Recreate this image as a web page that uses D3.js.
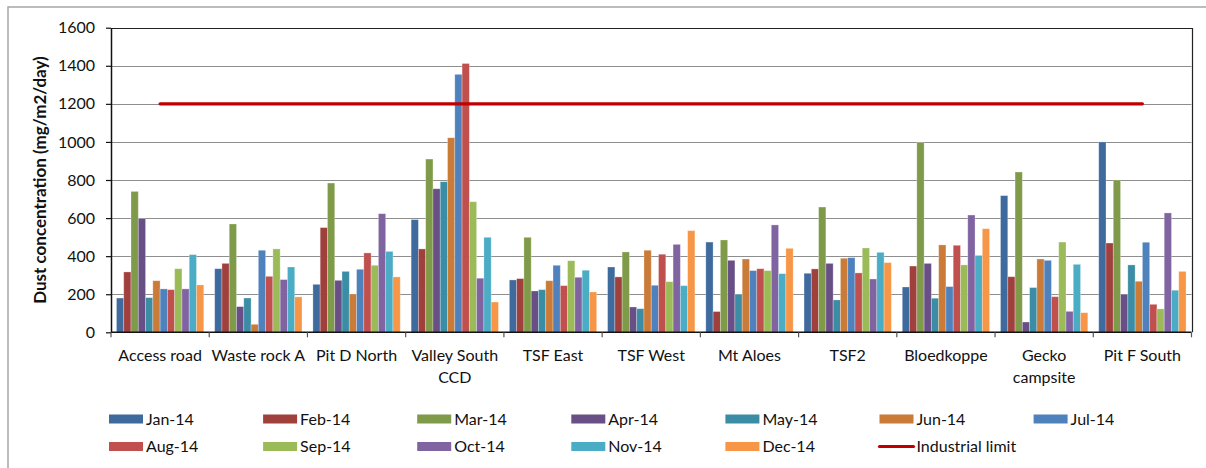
<!DOCTYPE html>
<html>
<head>
<meta charset="utf-8">
<script src="https://cdn.jsdelivr.net/npm/d3@7/dist/d3.min.js"></script>
<style>
  html, body { margin: 0; padding: 0; background: #fff; }
  svg { display: block; font-family: Lato, "Open Sans", sans-serif; }
</style>
</head>
<body>
<svg id="chart" width="1206" height="468"></svg>
<script>
// Monitoring sites along the x axis
const sites = ["Access road", "Waste rock A", "Pit D North", "Valley South CCD", "TSF East",
  "TSF West", "Mt Aloes", "TSF2", "Bloedkoppe", "Gecko campsite", "Pit F South"];

// Sampling months (one bar per month within each site)
const months = ["Jan-14", "Feb-14", "Mar-14", "Apr-14", "May-14", "Jun-14",
  "Jul-14", "Aug-14", "Sep-14", "Oct-14", "Nov-14", "Dec-14"];

// Dust fallout (mg/m2/day) per month, listed in site order
const jan14 = [180, 334, 252, 592, 275, 343, 474, 310, 238, 718, 1000];
const feb14 = [317, 362, 550, 438, 282, 291, 109, 333, 348, 292, 469];
const mar14 = [740, 569, 784, 910, 499, 422, 485, 658, 998, 842, 800];
const apr14 = [597, 135, 273, 754, 217, 133, 378, 362, 362, 54, 200];
const may14 = [182, 180, 320, 791, 224, 124, 200, 170, 179, 235, 354];
const jun14 = [271, 42, 201, 1022, 271, 431, 385, 389, 459, 385, 268];
const jul14 = [228, 431, 331, 1355, 352, 247, 324, 392, 240, 378, 473];
const aug14 = [224, 294, 417, 1412, 245, 410, 334, 312, 457, 187, 147];
const sep14 = [334, 438, 352, 686, 376, 266, 324, 443, 354, 474, 123];
const oct14 = [228, 277, 623, 284, 289, 462, 564, 280, 616, 110, 627];
const nov14 = [408, 343, 425, 499, 326, 245, 308, 420, 404, 357, 221];
const dec14 = [249, 186, 291, 159, 212, 534, 441, 366, 544, 103, 320];

// Regulatory threshold drawn as a line across the sites
const industrialLimit = 1200;
const limitLabel = "Industrial limit";

const yTicks = [0, 200, 400, 600, 800, 1000, 1200, 1400, 1600];
const yTitle = "Dust concentration (mg/m2/day)";

const series = [jan14, feb14, mar14, apr14, may14, jun14, jul14, aug14, sep14, oct14, nov14, dec14];
const colors = ["#3E6A9E", "#A0403D", "#7F9A48", "#684F86", "#3A8DA4", "#CB7B38",
  "#4F81BD", "#C0504D", "#9BBB59", "#8064A2", "#4BACC6", "#F79646"];

const svg = d3.select("#chart");

// Outer chart frame
svg.append("rect")
  .attr("x", 8).attr("y", 7).attr("width", 1230).attr("height", 500)
  .attr("fill", "#fff").attr("stroke", "#a6a6a6").attr("stroke-width", 1.5);

const plot = { left: 111, right: 1191.5, top: 27.7, bottom: 332.3 };

const x = d3.scaleBand().domain(sites).range([plot.left, plot.right]).paddingInner(0).paddingOuter(0);
const xm = d3.scaleBand().domain(months).range([0, x.bandwidth()]).paddingInner(0).paddingOuter(0.75);
const y = d3.scaleLinear().domain([0, 1600]).range([plot.bottom, plot.top]);

// Horizontal gridlines
svg.append("g")
  .selectAll("line")
  .data(yTicks.slice(1, -1))
  .join("line")
  .attr("x1", plot.left).attr("x2", plot.right)
  .attr("y1", d => Math.round(y(d)) + 0.5).attr("y2", d => Math.round(y(d)) + 0.5)
  .attr("stroke", "#8e8e8e").attr("stroke-width", 1);

// Bars
const bars = svg.append("g");
sites.forEach((site, i) => {
  const g = bars.append("g").attr("transform", `translate(${x(site)},0)`);
  g.selectAll("rect")
    .data(months.map((m, k) => ({ m, v: series[k][i], c: colors[k] })))
    .join("rect")
    .attr("x", d => xm(d.m))
    .attr("width", xm.bandwidth())
    .attr("y", d => y(d.v))
    .attr("height", d => plot.bottom - y(d.v))
    .attr("fill", d => d.c)
    .attr("stroke", "#ffffff").attr("stroke-opacity", 0.35).attr("stroke-width", 0.8);
});

// Plot area border (top and right)
svg.append("path")
  .attr("d", `M${plot.left},${Math.round(plot.top) + 0.5}H${Math.round(plot.right) + 0.5}V${plot.bottom}`)
  .attr("fill", "none").attr("stroke", "#222").attr("stroke-width", 1.2);

// Y axis
const yAxis = d3.axisLeft(y).tickValues(yTicks).tickFormat(d3.format("d"))
  .tickSize(5).tickPadding(11).tickSizeOuter(0);
const ya = svg.append("g").attr("transform", `translate(${plot.left},0)`).call(yAxis);
ya.select(".domain").attr("stroke", "#111").attr("stroke-width", 1.5);
ya.selectAll(".tick line").attr("stroke", "#111").attr("stroke-width", 1.2);
ya.selectAll("text").attr("font-size", 16).attr("fill", "#111").attr("font-family", "Lato, sans-serif");

// X axis: ticks at category boundaries
svg.append("line")
  .attr("x1", plot.left).attr("x2", plot.right)
  .attr("y1", plot.bottom).attr("y2", plot.bottom)
  .attr("stroke", "#111").attr("stroke-width", 1.5);
svg.append("g")
  .selectAll("line")
  .data(sites.concat(["end"]))
  .join("line")
  .attr("x1", (d, i) => plot.left + i * x.step()).attr("x2", (d, i) => plot.left + i * x.step())
  .attr("y1", plot.bottom).attr("y2", plot.bottom + 5)
  .attr("stroke", "#555").attr("stroke-width", 1.2);

// Category labels, wrapped to the category width
const labels = svg.append("g").attr("font-size", 16).attr("fill", "#111").attr("text-anchor", "middle");
sites.forEach(site => {
  const cx = x(site) + x.bandwidth() / 2;
  const t = labels.append("text").attr("x", cx).attr("y", 361);
  const words = site.split(" ");
  let line = [];
  let tspan = t.append("tspan").attr("x", cx).attr("dy", 0);
  words.forEach(w => {
    line.push(w);
    tspan.text(line.join(" "));
    if (tspan.node().getComputedTextLength() > x.bandwidth() - 1 && line.length > 1) {
      line.pop();
      tspan.text(line.join(" "));
      line = [w];
      tspan = t.append("tspan").attr("x", cx).attr("dy", 22).text(w);
    }
  });
});

// Industrial limit line through category centres
const limitLine = d3.line().x(d => x(d) + x.bandwidth() / 2).y(() => y(industrialLimit));
svg.append("path")
  .datum(sites)
  .attr("d", limitLine)
  .attr("fill", "none").attr("stroke", "#C00000").attr("stroke-width", 3.2).attr("stroke-linecap", "round");

// Y axis title
svg.append("text")
  .attr("transform", `translate(46,${(plot.top + plot.bottom) / 2}) rotate(-90)`)
  .attr("text-anchor", "middle")
  .attr("font-size", 17).attr("font-weight", "bold").attr("fill", "#111")
  .text(yTitle);

// Legend: two rows of seven columns
const legendItems = months.map((m, k) => ({ label: m, color: colors[k], type: "bar" }))
  .concat([{ label: limitLabel, color: "#C00000", type: "line" }]);
const legend = svg.append("g").attr("font-size", 16).attr("fill", "#111");
const colX = d3.scaleLinear().domain([0, 1]).range([109, 263.1]);
legendItems.forEach((d, i) => {
  const col = i % 7, row = Math.floor(i / 7);
  const lx = colX(col), ly = row === 0 ? 419 : 446.5;
  const g = legend.append("g").attr("transform", `translate(${lx},${ly})`);
  if (d.type === "bar") {
    g.append("rect").attr("x", 0).attr("y", -4.5).attr("width", 34).attr("height", 9).attr("fill", d.color);
  } else {
    g.append("line").attr("x1", 0).attr("x2", 34).attr("y1", 0).attr("y2", 0)
      .attr("stroke", d.color).attr("stroke-width", 3.2).attr("stroke-linecap", "round");
  }
  g.append("text").attr("x", 37).attr("y", 0).attr("dy", "0.35em").text(d.label);
});
</script>
</body>
</html>
